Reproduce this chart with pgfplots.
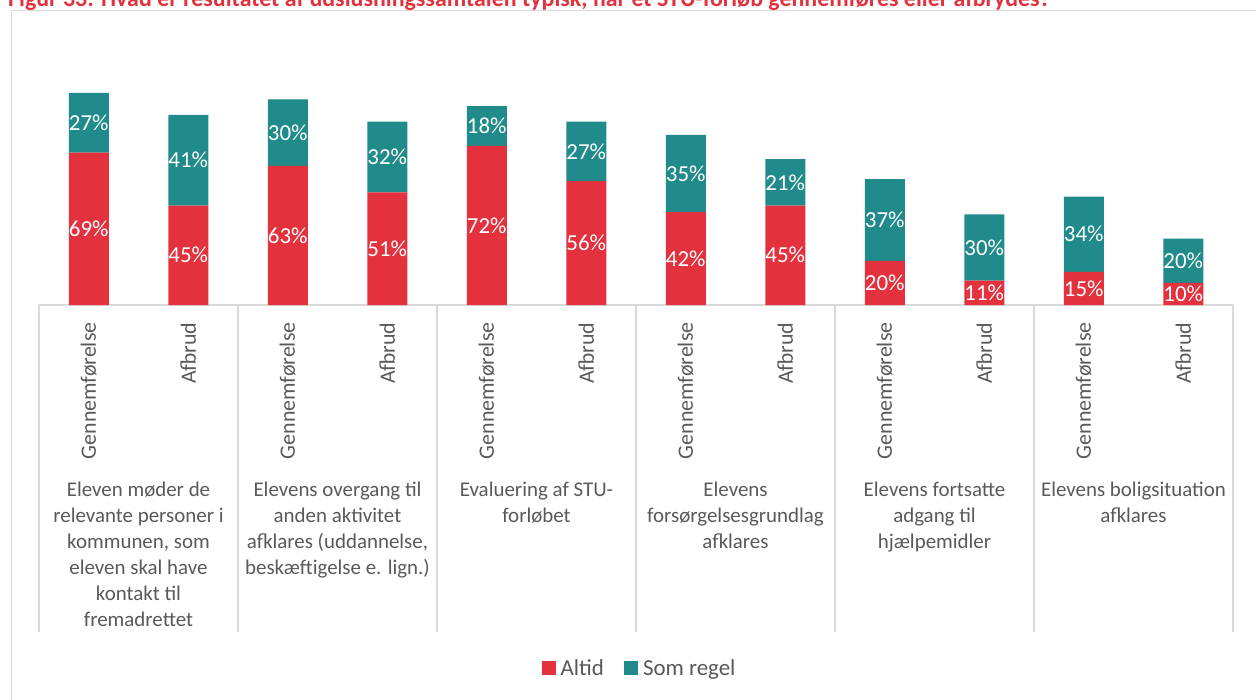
\documentclass[border=0pt]{standalone}
\usepackage{pgfplots}
\usepackage{pgfplotstable}
\pgfplotsset{compat=1.18}
\usepackage{fontspec}
\setmainfont{Carlito}
\definecolor{cred}{HTML}{E3313D}
\definecolor{cteal}{HTML}{208B8A}
\definecolor{ctxt}{HTML}{595959}
\definecolor{cgrid}{HTML}{D9D9D9}
\pgfplotstableread{
x a b
0 69 27
1 45 41
2 63 30
3 51 32
4 72 18
5 56 27
6 42 35
7 45 21
8 20 37
9 11 30
10 15 34
11 10 20
}\data
\newcommand\lbl{\fontsize{21}{26}\selectfont}
\begin{document}
\begin{tikzpicture}
\useasboundingbox (0bp,0bp) rectangle (1256bp,700bp);
\draw[cgrid, line width=1.5bp] (11.5bp,-5bp) rectangle (1262bp,689.5bp);
\node[anchor=base west, text=cred, font=\fontsize{24}{28}\selectfont\bfseries, inner sep=0] at (8bp,693bp) {Figur 33: Hvad er resultatet af udslusningssamtalen typisk, når et STU-forløb gennemføres eller afbrydes?};
\begin{axis}[at={(39bp,395bp)}, anchor=south west, x=99.5bp, y=2.21bp,
  xmin=-0.5, xmax=11.5, ymin=0, ymax=120,
  ybar stacked, bar width=40bp, clip=false,
  axis x line*=bottom, axis y line=none,
  x axis line style={cgrid, line width=1.2bp, -},
  xtick={0,...,11}, major tick length=0,
  xticklabels={Gennemførelse,Afbrud,Gennemførelse,Afbrud,Gennemførelse,Afbrud,Gennemførelse,Afbrud,Gennemførelse,Afbrud,Gennemførelse,Afbrud},
  xticklabel style={rotate=90, anchor=east, font=\fontsize{22}{26}\selectfont, text=ctxt},
  xticklabel shift=14bp,
  /pgf/number format/assume math mode=true,
  point meta=explicit,
  nodes near coords={\pgfmathprintnumber{\pgfplotspointmeta}\%},
  every node near coord/.append style={font=\fontsize{23}{26}\selectfont, text=white, anchor=center},
  legend style={at={(0.503,-1.37)}, anchor=center, draw=none, legend columns=2, font=\fontsize{23}{26}\selectfont, text=ctxt,
    /tikz/every odd column/.append style={column sep=3bp},
    /tikz/every even column/.append style={column sep=18bp}},
]
\addplot[fill=cred, draw=none, legend image code/.code={\fill[cred] (-7bp,-7bp) rectangle (7bp,7bp);}] table[x=x, y=a, meta=a] {\data};
\addplot[fill=cteal, draw=none, legend image code/.code={\fill[cteal] (-7bp,-7bp) rectangle (7bp,7bp);}] table[x=x, y=b, meta=b] {\data};
\legend{Altid, Som regel}
\pgfplotsinvokeforeach{-0.5,1.5,3.5,5.5,7.5,9.5,11.5}{\draw[cgrid, line width=1.2bp] (axis cs:#1,0) -- ++(0bp,-327bp);}
\node[anchor=north, align=center, inner sep=0, font=\lbl, text=ctxt] at (axis cs:0.5,0) [yshift=-177bp] {Eleven møder de\\relevante personer i\\kommunen, som\\eleven skal have\\kontakt til\\fremadrettet};
\node[anchor=north, align=center, inner sep=0, font=\lbl, text=ctxt] at (axis cs:2.5,0) [yshift=-177bp] {Elevens overgang til\\anden aktivitet\\afklares (uddannelse,\\beskæftigelse e. lign.)};
\node[anchor=north, align=center, inner sep=0, font=\lbl, text=ctxt] at (axis cs:4.5,0) [yshift=-177bp] {Evaluering af STU-\\forløbet};
\node[anchor=north, align=center, inner sep=0, font=\lbl, text=ctxt] at (axis cs:6.5,0) [yshift=-177bp] {Elevens\\forsørgelsesgrundlag\\afklares};
\node[anchor=north, align=center, inner sep=0, font=\lbl, text=ctxt] at (axis cs:8.5,0) [yshift=-177bp] {Elevens fortsatte\\adgang til\\hjælpemidler};
\node[anchor=north, align=center, inner sep=0, font=\lbl, text=ctxt] at (axis cs:10.5,0) [yshift=-177bp] {Elevens boligsituation\\afklares};
\end{axis}
\end{tikzpicture}
\end{document}
